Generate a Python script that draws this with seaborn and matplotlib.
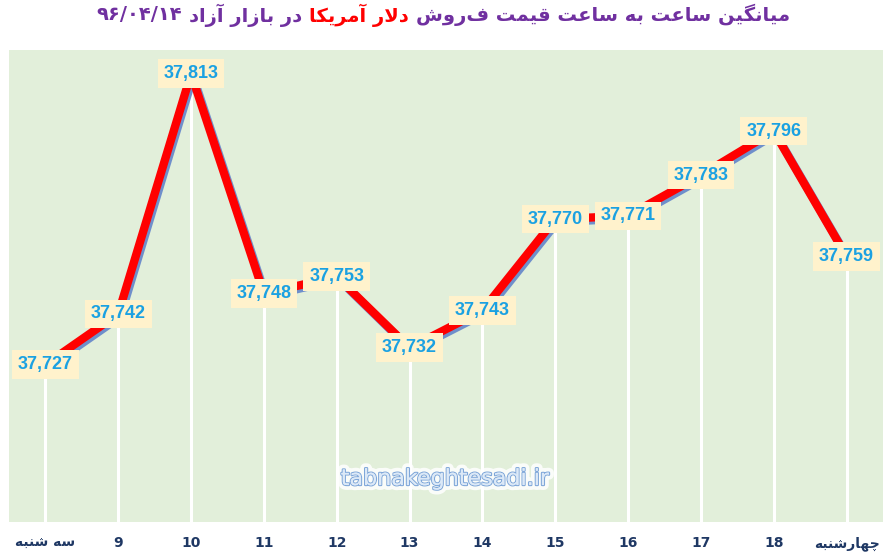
import numpy as np
import pandas as pd
import matplotlib
matplotlib.use("Agg")
import matplotlib.pyplot as plt
import matplotlib.patheffects as pe
import seaborn as sns

# data
hours = ["سه شنبه", "9", "10", "11", "12", "13", "14", "15", "16", "17", "18", "چهارشنبه"]
prices = [37727, 37742, 37813, 37748, 37753, 37732, 37743, 37770, 37771, 37783, 37796, 37759]

title_parts = ["میانگین ساعت به ساعت قیمت فروش", "دلار آمریکا", "در بازار آزاد"]
title_date = "۹۶/۰۴/۱۴"
watermark = "tabnakeghtesadi.ir"

# matplotlib has no arabic shaping, so pick the joined glyph forms by hand
# (isolated, final, initial, medial)
FORMS = {
    "ا": ("\uFE8D", "\uFE8E", None, None),
    "آ": ("\uFE81", "\uFE82", None, None),
    "ب": ("\uFE8F", "\uFE90", "\uFE91", "\uFE92"),
    "ت": ("\uFE95", "\uFE96", "\uFE97", "\uFE98"),
    "د": ("\uFEA9", "\uFEAA", None, None),
    "ر": ("\uFEAD", "\uFEAE", None, None),
    "ز": ("\uFEAF", "\uFEB0", None, None),
    "س": ("\uFEB1", "\uFEB2", "\uFEB3", "\uFEB4"),
    "ش": ("\uFEB5", "\uFEB6", "\uFEB7", "\uFEB8"),
    "ع": ("\uFEC9", "\uFECA", "\uFECB", "\uFECC"),
    "ق": ("\uFED5", "\uFED6", "\uFED7", "\uFED8"),
    "ل": ("\uFEDD", "\uFEDE", "\uFEDF", "\uFEE0"),
    "م": ("\uFEE1", "\uFEE2", "\uFEE3", "\uFEE4"),
    "ن": ("\uFEE5", "\uFEE6", "\uFEE7", "\uFEE8"),
    "ه": ("\uFEE9", "\uFEEA", "\uFEEB", "\uFEEC"),
    "و": ("\uFEED", "\uFEEE", None, None),
    "ی": ("\uFBFC", "\uFBFD", "\uFBFE", "\uFBFF"),
    "ک": ("\uFB8E", "\uFB8F", "\uFB90", "\uFB91"),
    "گ": ("\uFB92", "\uFB93", "\uFB94", "\uFB95"),
    "چ": ("\uFB7A", "\uFB7B", "\uFB7C", "\uFB7D"),
}
LAM_ALEF = {"ا": ("\uFEFB", "\uFEFC"), "آ": ("\uFEF5", "\uFEF6")}


def shape(text):
    out = []
    i = 0
    while i < len(text):
        c = text[i]
        if c not in FORMS:
            out.append(c)
            i += 1
            continue
        prev = text[i - 1] if i > 0 else ""
        joins_prev = prev in FORMS and FORMS[prev][2] is not None
        if c == "ل" and i + 1 < len(text) and text[i + 1] in LAM_ALEF:
            lig = LAM_ALEF[text[i + 1]]
            out.append(lig[1] if joins_prev else lig[0])
            i += 2
            continue
        nxt = text[i + 1] if i + 1 < len(text) else ""
        joins_next = FORMS[c][2] is not None and nxt in FORMS
        iso, fin, ini, med = FORMS[c]
        if joins_prev and joins_next:
            out.append(med)
        elif joins_prev:
            out.append(fin)
        elif joins_next:
            out.append(ini)
        else:
            out.append(iso)
        i += 1
    return "".join(out)


def rtl(text):
    if any(ch in FORMS for ch in text):
        return shape(text)[::-1]
    return text


df = pd.DataFrame({"pos": np.arange(len(hours)), "price": prices})

sns.set_style("white")
plt.rcParams["font.family"] = ["DejaVu Sans"]

W, H = 892, 557
fig = plt.figure(figsize=(W / 100, H / 100), dpi=100)
ax = fig.add_axes([9 / W, 35 / H, 874 / W, 472 / H])
ax.set_facecolor("#E2EFDA")
ymin, ymax = 37680.5, 37820

# white drop lines from each point
ax.vlines(df["pos"], ymin, df["price"], color="white", lw=2.2, zorder=1)

sns.lineplot(data=df, x="pos", y="price", color="#FF0000", lw=6, ax=ax,
             zorder=3, solid_joinstyle="miter",
             path_effects=[pe.SimpleLineShadow(offset=(1.5, -2), shadow_color="#6F8FCB", alpha=1),
                           pe.Normal()])

for x, y in zip(df["pos"], df["price"]):
    ax.text(x, y, f"{y:,}", ha="center", va="center", fontfamily="Liberation Sans",
            fontweight="bold", fontsize=13, color="#1BA1E2", zorder=5,
            bbox=dict(boxstyle="square,pad=0.32", fc="#FFF2CC", ec="none"))

ax.set_xlim(-0.5, len(hours) - 0.5)
ax.set_ylim(ymin, ymax)
ax.set_xticks(df["pos"])
ax.set_xticklabels([rtl(h) for h in hours], fontweight="bold", fontsize=10, color="#1F3864")
ax.set_yticks([])
ax.tick_params(axis="x", length=0, pad=10)
ax.set_xlabel("")
ax.set_ylabel("")
for s in ax.spines.values():
    s.set_visible(False)

ax.text(0.499, 0.091, watermark, transform=ax.transAxes, ha="center", va="center",
        fontsize=16, color="#DCE9F7", zorder=2,
        path_effects=[pe.withStroke(linewidth=7, foreground="white", alpha=0.85),
                      pe.withStroke(linewidth=1.6, foreground="#7FA7D9"), pe.Normal()])

# title: three coloured pieces laid out right to left
purple, red = "#7030A0", "#FF0000"
pieces = [(rtl(title_parts[0]), purple), (rtl(title_parts[1]), red),
          (rtl(title_parts[2]), purple), (title_date, purple)]
renderer = fig.canvas.get_renderer()
texts = []
for s, col in pieces:
    t = fig.text(0, 1 - 15 / H, s, ha="right", va="center", fontsize=14,
                 fontweight="bold", color=col)
    texts.append(t)
gap = 7
widths = [t.get_window_extent(renderer).width for t in texts]
total = sum(widths) + gap * (len(texts) - 1)
xr = 443 + total / 2
for t, w in zip(texts, widths):
    t.set_x(xr / W)
    xr -= w + gap

fig.savefig("out.png", dpi=100)
